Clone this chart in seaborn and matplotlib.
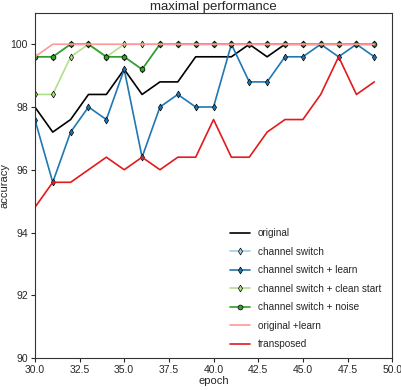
import numpy as np
import pandas as pd
import matplotlib
matplotlib.use("Agg")
import matplotlib.pyplot as plt
import seaborn as sns

epochs = list(range(30, 50))

original = [98.0, 97.2, 97.6, 98.4, 98.4, 99.2, 98.4, 98.8, 98.8, 99.6,
            99.6, 99.6, 100, 99.6, 100, 100, 100, 100, 100, 100]
channel_switch = [99.6, 99.6, 100, 100, 99.6, 99.6, 99.2, 100, 100, 100,
                  100, 100, 100, 100, 100, 100, 100, 100, 100, 100]
cs_learn = [97.6, 95.6, 97.2, 98.0, 97.6, 99.2, 96.4, 98.0, 98.4, 98.0,
            98.0, 100, 98.8, 98.8, 99.6, 99.6, 100, 99.6, 100, 99.6]
cs_clean = [98.4, 98.4, 99.6, 100, 99.6, 100, 100, 100, 100, 100,
            100, 100, 100, 100, 100, 100, 100, 100, 100, 100]
cs_noise = [99.6, 99.6, 100, 100, 99.6, 99.6, 99.2, 100, 100, 100,
            100, 100, 100, 100, 100, 100, 100, 100, 100, 100]
original_learn = [99.6, 100, 100, 100, 100, 100, 100, 100, 100, 100,
                  100, 100, 100, 100, 100, 100, 100, 100, 100, 100]
transposed = [94.8, 95.6, 95.6, 96.0, 96.4, 96.0, 96.4, 96.0, 96.4, 96.4,
              97.6, 96.4, 96.4, 97.2, 97.6, 97.6, 98.4, 99.6, 98.4, 98.8]

series = [
    ("original", original, "black", None),
    ("channel switch", channel_switch, "#a6cee3", "d"),
    ("channel switch + learn", cs_learn, "#1f78b4", "d"),
    ("channel switch + clean start", cs_clean, "#b2df8a", "d"),
    ("channel switch + noise", cs_noise, "#33a02c", "o"),
    ("original +learn", original_learn, "#fb9a99", None),
    ("transposed", transposed, "#e31a1c", None),
]

sns.set_style("ticks")
plt.rcParams["font.family"] = ["Liberation Sans", "DejaVu Sans"]
plt.rcParams["font.size"] = 7

fig, ax = plt.subplots(figsize=(4.01, 3.9), dpi=100)
fig.subplots_adjust(left=0.087, right=0.978, bottom=0.082, top=0.967)

for name, vals, color, marker in series:
    df = pd.DataFrame({"epoch": epochs, "accuracy": vals})
    sns.lineplot(data=df, x="epoch", y="accuracy", ax=ax, color=color,
                 marker=marker, markersize=3.5, markeredgecolor="black",
                 markeredgewidth=0.5, linewidth=1.2, label=name)

ax.set_xlim(30, 50)
ax.set_ylim(90, 101)
ax.set_yticks(np.arange(90, 101, 2))
ax.set_xticks(np.arange(30, 50.1, 2.5))
ax.set_title("maximal performance", fontsize=9.5, pad=1)
ax.set_xlabel("epoch", fontsize=8, labelpad=1)
ax.set_ylabel("accuracy", fontsize=8, labelpad=1)
ax.tick_params(labelsize=7.5, length=3, pad=2)
for s in ax.spines.values():
    s.set_color("#333333")
ax.legend(loc="lower right", frameon=False, fontsize=7.2, labelspacing=0.85,
          handlelength=2.0, bbox_to_anchor=(0.995, 0.0))

fig.savefig("out.png", dpi=100)
